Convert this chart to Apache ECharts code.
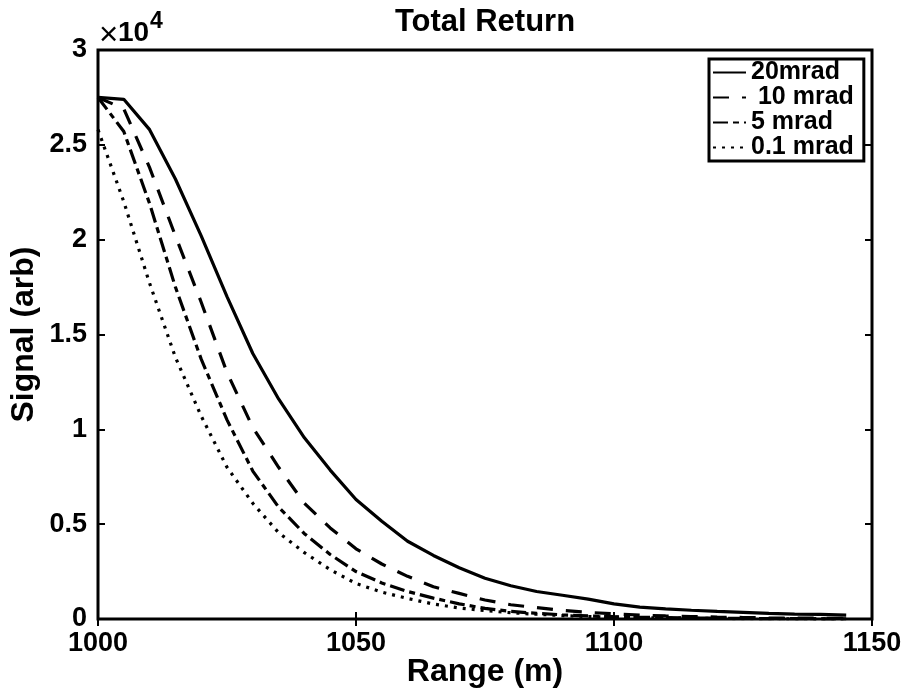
<!DOCTYPE html>
<html>
<head>
<meta charset="utf-8">
<script src="https://cdn.jsdelivr.net/npm/echarts@6/dist/echarts.min.js"></script>
<style>
html,body{margin:0;padding:0;background:#fff;}
#chart{width:911px;height:692px;}
</style>
</head>
<body>
<div id="chart"></div>
<script>
// Range (m)
const ranges = [1000,1005,1010,1015,1020,1025,1030,1035,1040,1045,1050,1055,1060,1065,1070,1075,1080,1085,1090,1095,1100,1105,1110,1115,1120,1125,1130,1135,1140,1145];
// Signal (arb) for each divergence
const signal20mrad = [27500,27400,25800,23200,20200,17000,14000,11600,9550,7850,6300,5150,4100,3350,2700,2150,1750,1450,1250,1050,800,630,530,460,400,350,300,260,240,200];
const signal10mrad = [27500,26900,23800,20200,16700,13000,10100,8000,6100,4800,3700,2900,2250,1700,1350,1000,750,600,450,350,270,210,160,130,100,80,60,50,40,30];
const signal5mrad  = [27500,25700,21900,17500,13700,10500,7800,5900,4500,3400,2500,1900,1450,1100,800,560,400,300,220,160,120,90,70,50,40,30,20,20,10,10];
const signal01mrad = [25800,22000,17700,13800,10700,8000,6100,4550,3500,2600,1870,1420,1080,790,580,440,330,250,180,130,100,70,50,40,30,20,15,10,10,10];
const seriesNames = ['20mrad',' 10 mrad','5 mrad','0.1 mrad'];
const xTicks = [1000,1050,1100,1150];
const yTickLabels = ['0','0.5','1','1.5','2','2.5','3'];

const FONT = "'Liberation Sans', Arial, Helvetica, sans-serif";
const pair = arr => ranges.map((r,i)=>[r,arr[i]]);

const chart = echarts.init(document.getElementById('chart'), null, {renderer:'canvas'});

const tickStyle = {show:true, inside:true, length:7, lineStyle:{color:'#000', width:2}};
const labelStyle = {color:'#000', fontSize:27, fontWeight:'bold', fontFamily:FONT};

function mkSeries(name, data, type){
  return {
    name:name, type:'line', data:pair(data), symbol:'none', smooth:false,
    xAxisIndex:0, yAxisIndex:0,
    lineStyle:{color:'#000', width:3.2, type:type, cap:'butt'},
    itemStyle:{color:'#000'},
    emphasis:{disabled:true}, animation:false
  };
}

chart.setOption({
  animation:false,
  backgroundColor:'#fff',
  grid:{left:98, right:39, top:50, bottom:73, show:true, borderColor:'#000', borderWidth:3, backgroundColor:'#fff',
        containLabel:false, outerBoundsMode:'none'},
  xAxis:[
    {type:'value', min:xTicks[0], max:xTicks[xTicks.length-1], interval:50, position:'bottom',
     axisLine:{show:false}, axisTick:tickStyle, splitLine:{show:false},
     axisLabel:Object.assign({margin:11, formatter:(v)=>String(v)}, labelStyle),
     name:'Range (m)', nameLocation:'middle', nameGap:37, nameMoveOverlap:false,
     nameTextStyle:{color:'#000', fontSize:32, fontWeight:'bold', fontFamily:FONT}},
    {type:'value', min:xTicks[0], max:xTicks[xTicks.length-1], interval:50, position:'top',
     axisLine:{show:false}, axisTick:tickStyle, splitLine:{show:false}, axisLabel:{show:false}}
  ],
  yAxis:[
    {type:'value', min:0, max:30000, interval:5000, position:'left',
     axisLine:{show:false}, axisTick:tickStyle, splitLine:{show:false},
     axisLabel:Object.assign({margin:11, formatter:(v)=>yTickLabels[Math.round(v/5000)]}, labelStyle),
     name:'Signal (arb)', nameLocation:'middle', nameGap:58, nameMoveOverlap:false,
     nameTextStyle:{color:'#000', fontSize:32, fontWeight:'bold', fontFamily:FONT}},
    {type:'value', min:0, max:30000, interval:5000, position:'right',
     axisLine:{show:false}, axisTick:tickStyle, splitLine:{show:false}, axisLabel:{show:false}}
  ],
  legend:{
    data:seriesNames, orient:'vertical', left:709, top:59,
    padding:[1,10,1,3], itemGap:0, itemWidth:33, itemHeight:2,
    backgroundColor:'#fff', borderColor:'#000', borderWidth:3, borderRadius:0,
    selectedMode:false,
    itemStyle:{opacity:0},
    textStyle:{color:'#000', fontSize:25, fontWeight:'bold', fontFamily:FONT, lineHeight:24}
  },
  series:[
    mkSeries(seriesNames[0], signal20mrad, 'solid'),
    mkSeries(seriesNames[1], signal10mrad, [16,13]),
    mkSeries(seriesNames[2], signal5mrad, [15,5,6,5]),
    mkSeries(seriesNames[3], signal01mrad, [3,6])
  ],
  graphic:[
    {type:'text', x:485, y:7, style:{text:'Total Return', textAlign:'center', textVerticalAlign:'top',
      font:"bold 31px "+FONT, fill:'#000'}},
    {type:'text', x:99, y:36, style:{text:'×', textAlign:'left', textVerticalAlign:'middle',
      font:"normal 33px "+FONT, fill:'#000'}},
    {type:'text', x:118, y:33, style:{text:'10', textAlign:'left', textVerticalAlign:'middle',
      font:"bold 28px "+FONT, fill:'#000'}},
    {type:'text', x:150, y:22, style:{text:'4', textAlign:'left', textVerticalAlign:'middle',
      font:"bold 23px "+FONT, fill:'#000'}}
  ]
});
</script>
</body>
</html>
